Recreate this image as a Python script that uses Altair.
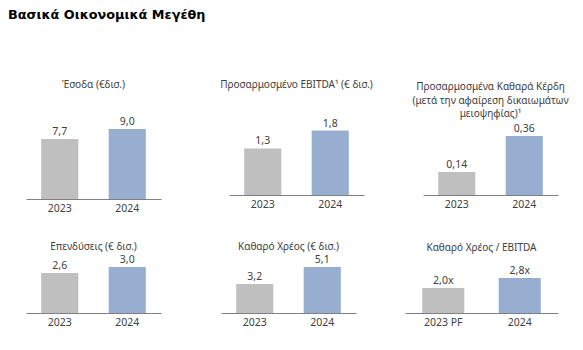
import altair as alt
import pandas as pd

main_title = "Βασικά Οικονομικά Μεγέθη"

panel_titles = [
    "Έσοδα (€δισ.)",
    "Προσαρμοσμένο EBITDA¹ (€ δισ.)",
    ["Προσαρμοσμένα Καθαρά Κέρδη", "(μετά την αφαίρεση δικαιωμάτων", "μειοψηφίας)¹"],
    "Επενδύσεις (€ δισ.)",
    "Καθαρό Χρέος (€ δισ.)",
    "Καθαρό Χρέος / EBITDA",
]
periods = [
    ["2023", "2024"],
    ["2023", "2024"],
    ["2023", "2024"],
    ["2023", "2024"],
    ["2023", "2024"],
    ["2023 PF", "2024"],
]
values = [
    [7.7, 9.0],
    [1.3, 1.8],
    [0.14, 0.36],
    [2.6, 3.0],
    [3.2, 5.1],
    [2.0, 2.8],
]
value_labels = [
    ["7,7", "9,0"],
    ["1,3", "1,8"],
    ["0,14", "0,36"],
    ["2,6", "3,0"],
    ["3,2", "5,1"],
    ["2,0x", "2,8x"],
]
series = ["prev", "curr"]

GRAY = "#BFBFBF"
BLUE = "#97AED0"
TXT = "#404040"
FONT = "Noto Sans"


def panel(i, width, height, ymax, toffset):
    df = pd.DataFrame({
        "period": periods[i],
        "value": values[i],
        "label": value_labels[i],
        "series": series,
    })
    base = alt.Chart(df).encode(
        x=alt.X(
            "period:N",
            sort=periods[i],
            scale=alt.Scale(paddingInner=0.45, paddingOuter=0.225),
            axis=alt.Axis(
                title=None, labelAngle=0, ticks=False, labelPadding=4,
                labelFont=FONT, labelFontSize=10.5, labelColor=TXT,
                domainColor="#808080", domainWidth=1,
            ),
        ),
        y=alt.Y("value:Q", scale=alt.Scale(domain=[0, ymax]), axis=None),
    )
    bars = base.mark_bar().encode(
        color=alt.Color("series:N", scale=alt.Scale(domain=series, range=[GRAY, BLUE]), legend=None)
    )
    text = base.mark_text(baseline="bottom", dy=-2, font=FONT, fontSize=10.5, color=TXT).encode(
        text="label:N"
    )
    return (bars + text).properties(
        width=width,
        height=height,
        title=alt.TitleParams(
            text=panel_titles[i], font=FONT, fontSize=10, fontWeight="normal",
            color=TXT, anchor="middle", offset=toffset, lineHeight=13.3,
        ),
    )


p1 = panel(0, 135, 77, 9.9, 27)
p2 = panel(1, 135, 73, 2.04, 29)
p3 = panel(2, 135, 73, 0.445, 3)
p4 = panel(3, 135, 57, 3.71, 3)
p5 = panel(4, 135, 57, 6.31, 3)
p6 = panel(5, 153, 57, 4.56, 3)

row1 = alt.hconcat(p1, alt.hconcat(p2, p3, spacing=59, bounds="flush"), spacing=68, bounds="flush")
row2 = alt.hconcat(p4, alt.hconcat(p5, p6, spacing=49, bounds="flush"), spacing=60, bounds="flush")

chart = alt.vconcat(row1, row2, spacing=27, bounds="full").properties(
    title=alt.TitleParams(
        text=main_title, font="DejaVu Sans", fontSize=12.8, fontWeight="bold",
        color="#000000", anchor="start", dx=-18, offset=58,
    ),
    padding={"left": 8, "top": 8, "right": 5, "bottom": 5},
).configure_view(stroke=None)

chart.save("out.html", embed_options={"renderer": "svg", "actions": False})
